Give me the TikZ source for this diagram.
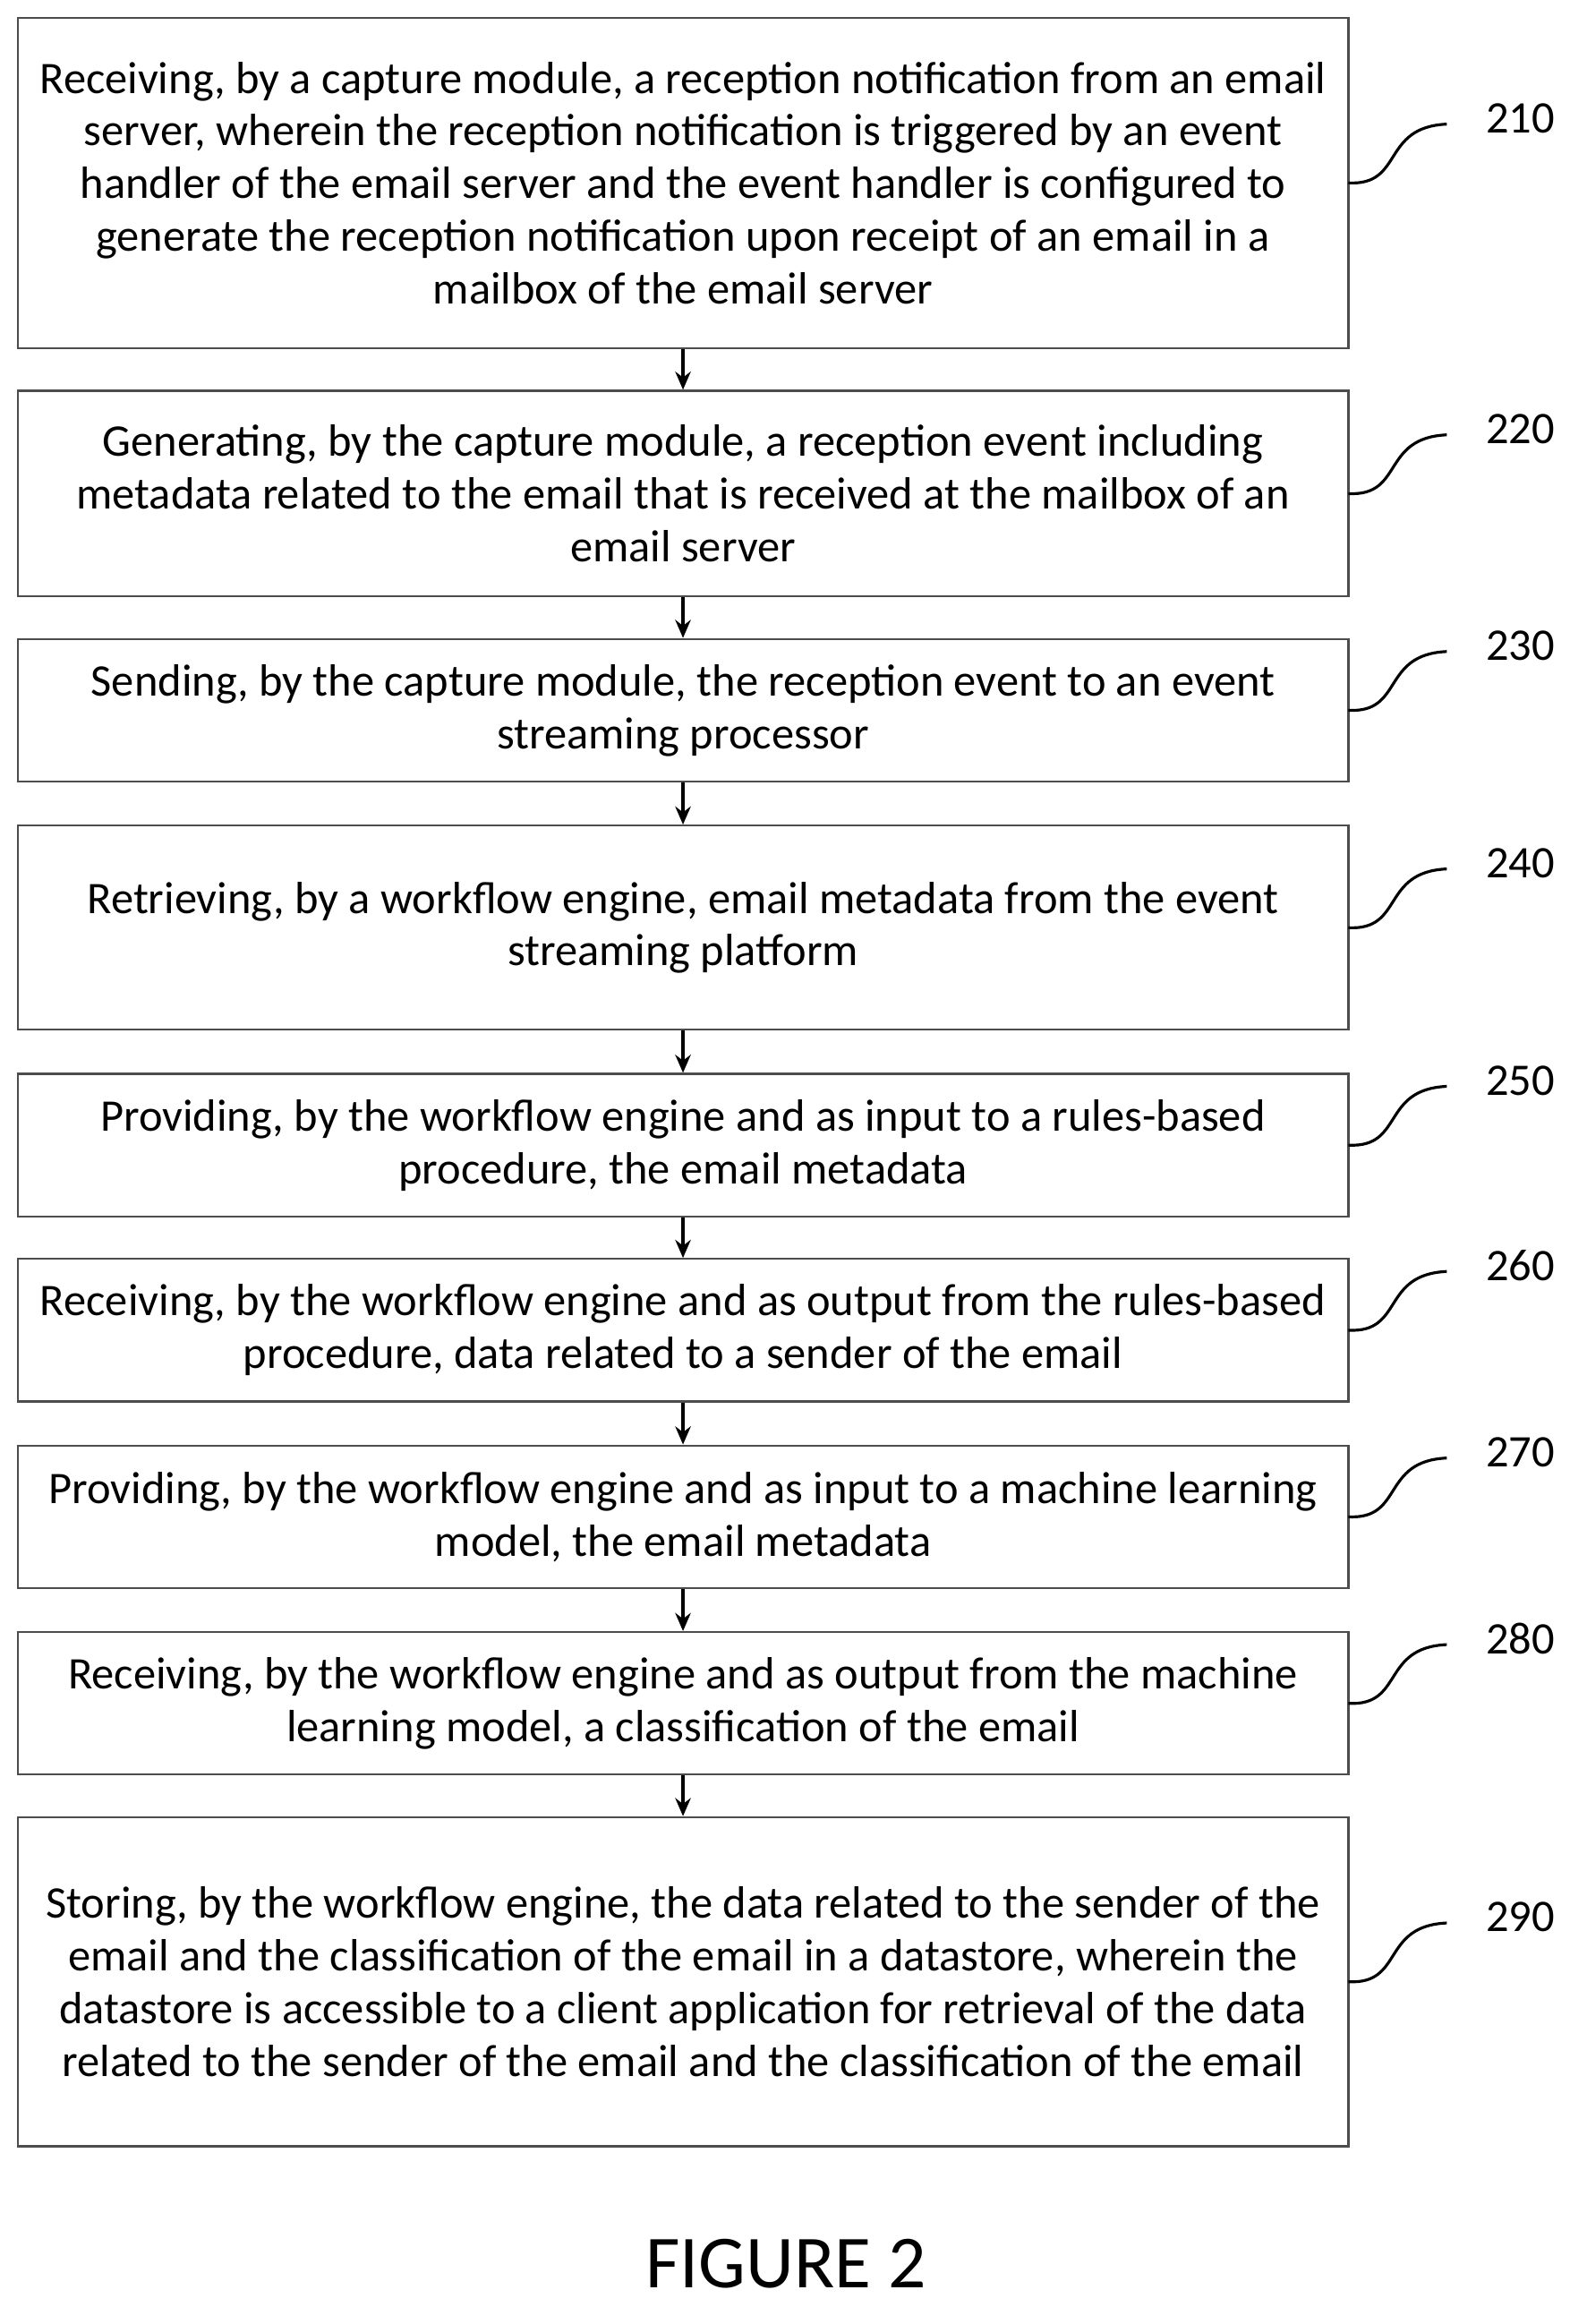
\documentclass[tikz,border=0pt]{standalone}
\usepackage{fontspec}
\setmainfont{Carlito}
\usetikzlibrary{arrows.meta}
\begin{document}
\begin{tikzpicture}[x=0.02cm,y=-0.02cm,
 box/.style={draw=black!70,line width=0.8pt,inner sep=0pt,align=center,font=\fontsize{17.5}{20.4}\selectfont},
 arr/.style={-{Stealth[length=7pt,width=6pt]},line width=1.3pt},
 lab/.style={font=\fontsize{17.5}{20.4}\selectfont},
 sq/.style={line width=1.1pt}]
\useasboundingbox (0,0) rectangle (1080,1582);
\fill[white] (0,0) rectangle (1080,1582);
\def\B#1#2#3#4#5{%
 \node[box,minimum width=906*0.02cm,minimum height={(#3-#2)*0.02cm}] (b#1) at (465,{(#2+#3)/2}) {#4};
 \coordinate (s#1) at (918,{(#2+#3)/2});
 \coordinate (e#1) at (985,{(#2+#3)/2-40});
 \draw[sq] (s#1) .. controls ($(s#1)+(38,2)$) and ($(e#1)+(-45,2)$) .. (e#1);
 \node[lab] (l#1) at (1035,{(#2+#3)/2-44}) {#5};}
\usetikzlibrary{calc}
\B{1}{12}{237}{Receiving, by a capture module, a reception notification from an email\\server, wherein the reception notification is triggered by an event\\handler of the email server and the event handler is configured to\\generate the reception notification upon receipt of an email in a\\mailbox of the email server}{210}
\B{2}{266}{406}{Generating, by the capture module, a reception event including\\metadata related to the email that is received at the mailbox of an\\email server}{220}
\B{3}{435}{532}{Sending, by the capture module, the reception event to an event\\streaming processor}{230}
\B{4}{562}{701}{Retrieving, by a workflow engine, email metadata from the event\\streaming platform}{240}
\B{5}{731}{828}{Providing, by the workflow engine and as input to a rules-based\\procedure, the email metadata}{250}
\B{6}{857}{954}{Receiving, by the workflow engine and as output from the rules-based\\procedure, data related to a sender of the email}{260}
\B{7}{984}{1081}{Providing, by the workflow engine and as input to a machine learning\\model, the email metadata}{270}
\B{8}{1111}{1208}{Receiving, by the workflow engine and as output from the machine\\learning model, a classification of the email}{280}
\B{9}{1237}{1461}{Storing, by the workflow engine, the data related to the sender of the\\email and the classification of the email in a datastore, wherein the\\datastore is accessible to a client application for retrieval of the data\\related to the sender of the email and the classification of the email}{290}
\foreach \a/\b in {1/2,2/3,3/4,4/5,5/6,6/7,7/8,8/9} \draw[arr] (b\a.south) -- (b\b.north);
\node[font=\fontsize{29}{34}\selectfont] (fig) at (535,1541) {FIGURE 2};
\end{tikzpicture}
\end{document}
